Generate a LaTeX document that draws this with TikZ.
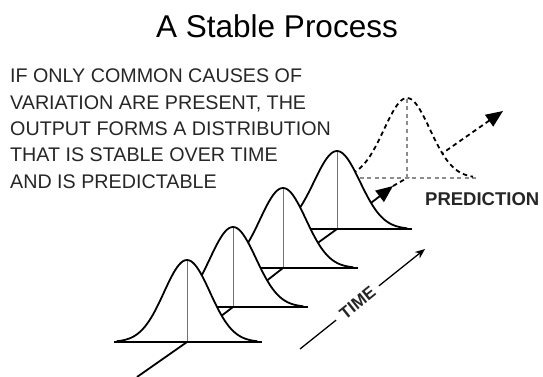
\documentclass[tikz,border=0pt]{standalone}
\usepackage{fontspec}
\setmainfont{Liberation Sans}
\usetikzlibrary{arrows.meta}
\newcommand\drawbell[3]{%
  \fill[white] plot[domain=-70:70,samples=71,smooth] ({#1+\x},{#2-#3*exp(-\x*\x/1058)}) -- cycle;
  \draw[midline] (#1,#2) -- (#1,#2-#3);
  \draw[baseln] (#1-73,#2) -- (#1+75,#2);
  \draw[bellline] plot[domain=-70:70,samples=71,smooth] ({#1+\x},{#2-#3*exp(-\x*\x/1058)});
}
\begin{document}
\begin{tikzpicture}[x=1pt,y=-1pt,
  bellline/.style={line width=1.8pt, line join=round, line cap=round},
  baseln/.style={line width=1.8pt},
  midline/.style={line width=1pt, black!55},
  dsh/.style={line width=1.8pt, dash pattern=on 4.5pt off 3.5pt},
  dshgray/.style={line width=1.8pt, dash pattern=on 4pt off 3.5pt, black!45},
  bigtip/.style={-{Triangle[length=17pt,width=14pt]}},
]
\useasboundingbox (0,0) rectangle (543,377);

% title and texts
\node[font=\fontsize{31.5}{36}\selectfont, anchor=base, inner sep=0] (title) at (277,38) {A Stable Process};
\node[font=\fontsize{19.7}{26.3}\selectfont, anchor=north west, inner sep=0, align=left, text=black!85] (desc) at (10,69)
  {IF ONLY COMMON CAUSES OF\\VARIATION ARE PRESENT, THE\\OUTPUT FORMS A DISTRIBUTION\\THAT IS STABLE OVER TIME\\AND IS PREDICTABLE};
\node[font=\bfseries\fontsize{18.5}{20}\selectfont, anchor=base west, inner sep=0, text=black!85] (pred) at (425,205) {PREDICTION};

% coordinates of the time axis
\coordinate (a0) at (137,377);
\coordinate (b1) at (187,342);
\coordinate (b2) at (233,307);
\coordinate (b3) at (283,268);
\coordinate (b4) at (337,229);
\coordinate (t1) at (393,186);
\coordinate (b5) at (407,178);
\coordinate (t2) at (503,111);
\coordinate (ts) at (300,349);
\coordinate (te) at (425,249);

% axis
\draw[baseln, bigtip] (a0) -- (b1) -- (b2) -- (b3) -- (b4) -- (t1);
\draw[dsh, bigtip] (t1) -- (b5) -- (t2);

% predicted distribution (dashed)
\fill[white] plot[domain=-70:70,samples=71,smooth] ({407+\x},{178-80*exp(-\x*\x/1058)}) -- cycle;
\draw[dshgray] (337,178) -- (478,178);
\draw[dshgray] (b5) -- (407,98);
\draw[dsh] plot[domain=-70:66,samples=69,smooth] ({407+\x},{178-80*exp(-\x*\x/1058)});

% bells, back to front
\drawbell{337}{229}{78}
\drawbell{283}{268}{80}
\drawbell{233}{307}{80}
\drawbell{187}{342}{82}

% time arrow
\draw[line width=1.3pt, -{Stealth[length=10pt,width=8pt]}] (ts) -- node[sloped, pos=0.46, fill=white, inner xsep=7pt, inner ysep=1pt, font=\bfseries\fontsize{17}{18}\selectfont, text=black!85] (timelbl) {TIME} (te);
\end{tikzpicture}
\end{document}
